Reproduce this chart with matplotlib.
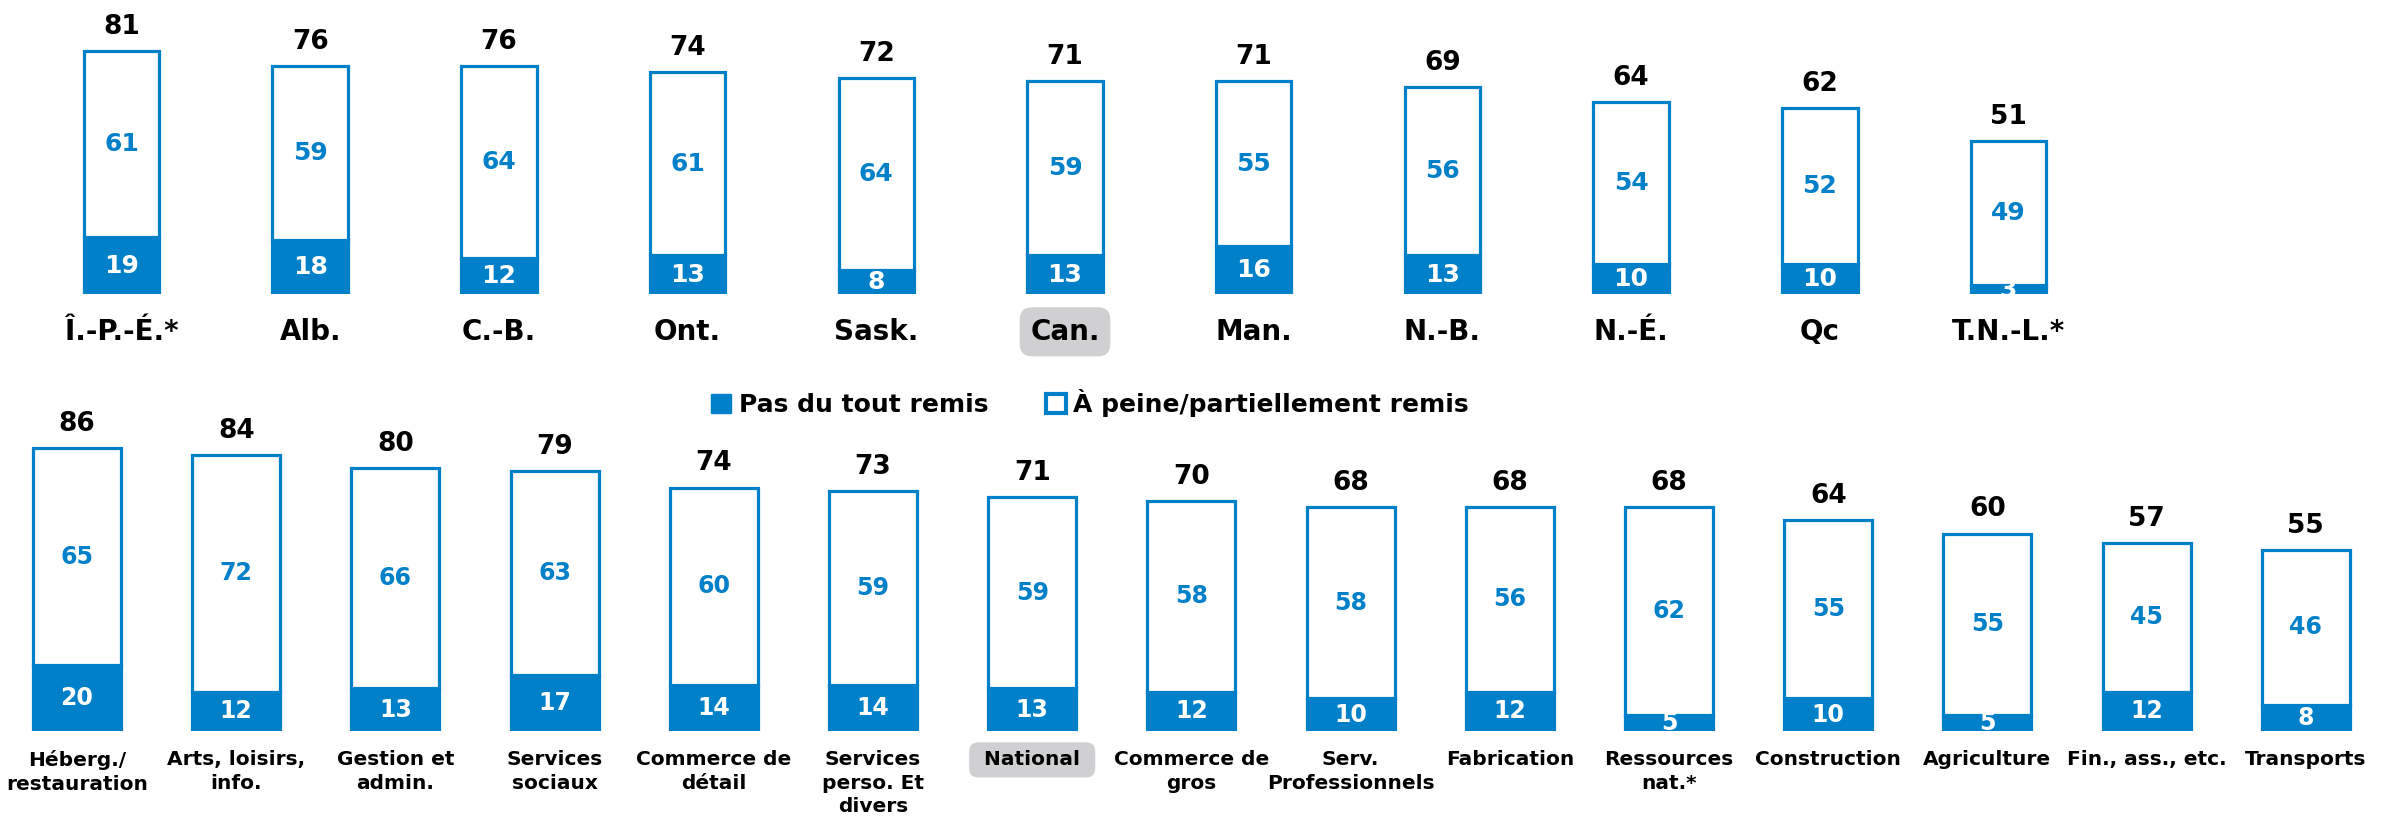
import matplotlib
matplotlib.use('Agg')
import matplotlib.pyplot as plt
from matplotlib.patches import Patch

plt.rcParams['font.family'] = ['DejaVu Sans']

# Provinces (top row)
prov = ['Î.-P.-É.*', 'Alb.', 'C.-B.', 'Ont.', 'Sask.', 'Can.', 'Man.', 'N.-B.', 'N.-É.', 'Qc', 'T.N.-L.*']
prov_total = [81, 76, 76, 74, 72, 71, 71, 69, 64, 62, 51]
prov_none = [19, 18, 12, 13, 8, 13, 16, 13, 10, 10, 3]
prov_partial = [61, 59, 64, 61, 64, 59, 55, 56, 54, 52, 49]

# Sectors (bottom row)
sectors = ['Héberg./\nrestauration', 'Arts, loisirs,\ninfo.', 'Gestion et\nadmin.', 'Services\nsociaux',
           'Commerce de\ndétail', 'Services\nperso. Et\ndivers', 'National', 'Commerce de\ngros',
           'Serv.\nProfessionnels', 'Fabrication', 'Ressources\nnat.*', 'Construction', 'Agriculture',
           'Fin., ass., etc.', 'Transports']
sec_total = [86, 84, 80, 79, 74, 73, 71, 70, 68, 68, 68, 64, 60, 57, 55]
sec_none = [20, 12, 13, 17, 14, 14, 13, 12, 10, 12, 5, 10, 5, 12, 8]
sec_partial = [65, 72, 66, 63, 60, 59, 59, 58, 58, 56, 62, 55, 55, 45, 46]

BLUE = '#0080c8'
W, H = 2384, 821
fig = plt.figure(figsize=(W / 100, H / 100), dpi=100)


def px_axes(left, bottom_from_top, width, height):
    return fig.add_axes([left / W, (H - bottom_from_top) / H, width / W, height / H])


def draw_row(ax, labels, total, none, partial, nslots, barw, valsize, labsize, labpad, labva,
             highlight, hl_pad, linesp):
    x = list(range(len(labels)))
    hollow = [t - n for t, n in zip(total, none)]
    ax.bar(x, none, width=barw, color=BLUE, edgecolor=BLUE, linewidth=2.3)
    ax.bar(x, hollow, bottom=none, width=barw, color='white', edgecolor=BLUE, linewidth=2.3)
    for i in x:
        ax.text(i, none[i] / 2, str(none[i]), ha='center', va='center', color='white',
                fontsize=valsize, fontweight='bold')
        ax.text(i, none[i] + hollow[i] / 2, str(partial[i]), ha='center', va='center', color=BLUE,
                fontsize=valsize, fontweight='bold')
        ax.annotate(str(total[i]), (i, total[i]), xytext=(0, 8), textcoords='offset points',
                    ha='center', va='bottom', fontsize=19, fontweight='bold', color='black')
        bbox = None
        txt = labels[i]
        if labels[i] == highlight:
            bbox = dict(boxstyle='round,pad=%s,rounding_size=0.45' % hl_pad, fc='#d0d0d2', ec='none')
            if labsize < 18:
                txt = ' ' + labels[i] + ' '
        ax.annotate(txt, (i, 0), xytext=(0, -labpad), textcoords='offset points',
                    ha='center', va=labva, fontsize=labsize, fontweight='bold',
                    color='black', bbox=bbox, linespacing=linesp)
    ax.set_xlim(-0.5, nslots - 0.5)
    ax.set_ylim(0, 100)
    ax.axis('off')


# top row: centers 121.5 + 188.7*i, baseline at y=294, ~3.0 px per unit
ax1 = px_axes(121.5 - 94.35, 294, 12 * 188.7, 300)
draw_row(ax1, prov, prov_total, prov_none, prov_partial, 12, 0.40, 18, 20, 33, 'baseline',
         'Can.', 0.38, 1.2)

# bottom row: centers 77 + 159.2*i, baseline at y=731, 3.29 px per unit
ax2 = px_axes(77 - 79.6, 731, 15 * 159.2, 329)
draw_row(ax2, sectors, sec_total, sec_none, sec_partial, 15, 0.553, 17, 14.5, 14, 'top',
         'National', 0.4, 1.3)

handles = [Patch(facecolor=BLUE, edgecolor=BLUE, linewidth=1.0),
           Patch(facecolor='white', edgecolor=BLUE, linewidth=3.0)]
leg = fig.legend(handles, ['Pas du tout remis', 'À peine/partiellement remis'],
                 loc='center', bbox_to_anchor=(1090 / W, 1 - 403 / H), ncol=2, frameon=False,
                 prop={'size': 18, 'weight': 'bold'}, handlelength=0.8, handleheight=0.8,
                 handletextpad=0.3, columnspacing=2.3)

fig.savefig('out.png', dpi=100)
